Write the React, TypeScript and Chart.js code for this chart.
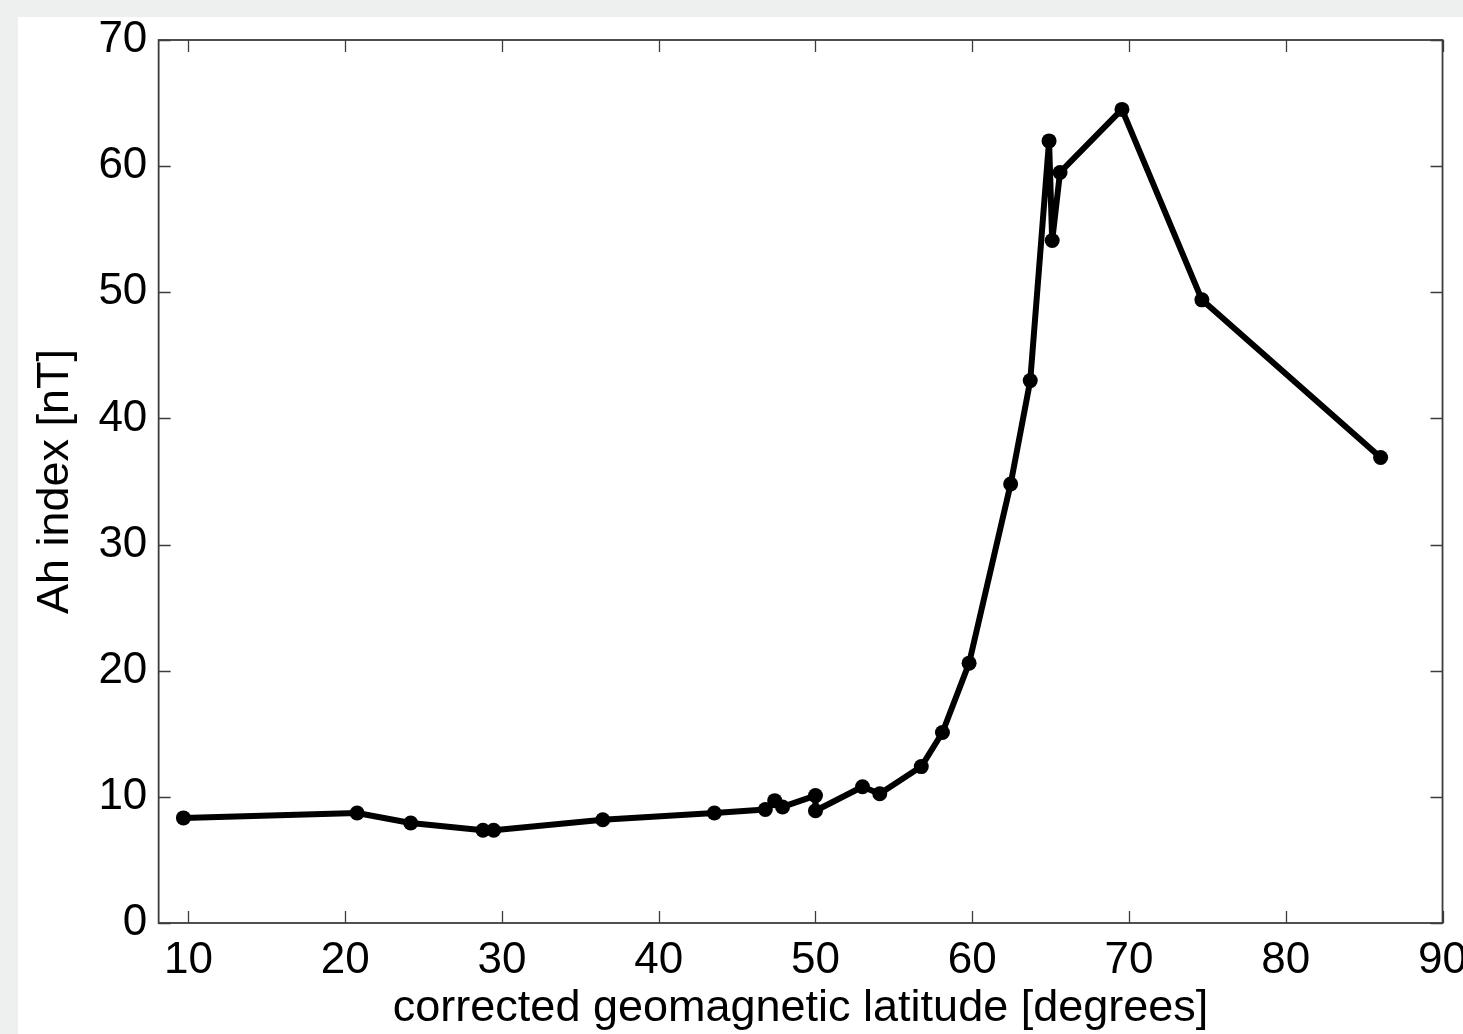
import React, { useEffect, useRef } from "react";
import { Chart, registerables } from "chart.js";

Chart.register(...registerables);

// Data
const latitudes = [
  9.68, 20.76, 24.18, 28.79, 29.47, 36.43, 43.55, 46.8, 47.4, 47.9, 50.0, 50.0,
  53.0, 54.1, 56.75, 58.1, 59.8, 62.45, 63.7, 64.9, 65.1, 65.6, 69.55, 74.65, 86.05,
];
const ahIndex = [
  8.33, 8.72, 7.93, 7.35, 7.35, 8.19, 8.72, 9.0, 9.7, 9.2, 10.1, 8.9,
  10.8, 10.25, 12.4, 15.1, 20.6, 34.8, 43.0, 62.0, 54.1, 59.5, 64.5, 49.4, 36.9,
];
const xTicks = [10, 20, 30, 40, 50, 60, 70, 80, 90];
const yTicks = [0, 10, 20, 30, 40, 50, 60, 70];
const xTitle = "corrected geomagnetic latitude [degrees]";
const yTitle = "Ah index [nT]";

const FONT = "'Liberation Sans', Arial, Helvetica, sans-serif";
const CANVAS_W = 1465;
const CANVAS_H = 1017;

const framePlugin = {
  id: "frameTicks",
  beforeDatasetsDraw(chart: any) {
    const { ctx, chartArea, scales } = chart;
    const { left, right, top, bottom } = chartArea;
    const xs = scales.x;
    const ys = scales.y;
    const len = 12;
    ctx.save();
    ctx.strokeStyle = "#3c3c3c";
    ctx.lineWidth = 1.3;
    ctx.beginPath();
    xTicks.forEach((v) => {
      const p = Math.round(xs.getPixelForValue(v)) + 0.5;
      ctx.moveTo(p, bottom);
      ctx.lineTo(p, bottom - len);
      ctx.moveTo(p, top);
      ctx.lineTo(p, top + len);
    });
    yTicks.forEach((v) => {
      const p = Math.round(ys.getPixelForValue(v)) + 0.5;
      ctx.moveTo(left, p);
      ctx.lineTo(left + len, p);
      ctx.moveTo(right, p);
      ctx.lineTo(right - len, p);
    });
    ctx.stroke();
    ctx.lineWidth = 1.8;
    ctx.strokeRect(left, top, right - left, bottom - top);
    ctx.restore();
  },
};

export default function App() {
  const canvasRef = useRef<HTMLCanvasElement | null>(null);

  useEffect(() => {
    document.body.style.margin = "0";
    document.body.style.overflow = "hidden";
    const canvas = canvasRef.current;
    if (!canvas) return;
    const points = latitudes.map((x, i) => ({ x, y: ahIndex[i] }));
    const chart = new Chart(canvas, {
      type: "scatter",
      data: {
        datasets: [
          {
            data: points,
            showLine: true,
            borderColor: "#000",
            backgroundColor: "#000",
            borderWidth: 6,
            borderJoinStyle: "round",
            borderCapStyle: "round",
            pointRadius: 7.5,
            pointBorderWidth: 0,
            pointBackgroundColor: "#000",
          },
        ],
      },
      options: {
        responsive: false,
        animation: false,
        devicePixelRatio: 1,
        layout: { padding: { top: 23, left: 0, right: 0, bottom: 0 } },
        plugins: {
          legend: { display: false },
          tooltip: { enabled: false },
        },
        scales: {
          x: {
            type: "linear",
            min: 8.1,
            max: 90,
            afterBuildTicks: (scale: any) => {
              scale.ticks = xTicks.map((v) => ({ value: v }));
            },
            grid: { display: false, drawTicks: false },
            border: { display: false },
            ticks: {
              color: "#000",
              padding: 16,
              font: { family: FONT, size: 44, lineHeight: 1.0 },
              maxRotation: 0,
              autoSkip: false,
            },
            title: {
              display: true,
              text: xTitle,
              color: "#000",
              font: { family: FONT, size: 45, lineHeight: 0.4 },
              padding: { top: 1, bottom: 16 },
            },
          },
          y: {
            type: "linear",
            min: 0,
            max: 70,
            afterBuildTicks: (scale: any) => {
              scale.ticks = yTicks.map((v) => ({ value: v }));
            },
            grid: { display: false, drawTicks: false },
            border: { display: false },
            ticks: {
              color: "#000",
              padding: 11.3,
              font: { family: FONT, size: 44, lineHeight: 0.5 },
              autoSkip: false,
            },
            title: {
              display: true,
              text: yTitle,
              color: "#000",
              font: { family: FONT, size: 45, lineHeight: 1.0 },
              padding: { top: 15.5, bottom: 8.6 },
            },
          },
        },
      },
      plugins: [framePlugin],
    });
    return () => chart.destroy();
  }, []);

  return (
    <div
      style={{
        position: "fixed",
        left: 0,
        top: 0,
        width: 1463,
        height: 1034,
        background: "#eeefef",
        overflow: "hidden",
      }}
    >
      <div
        style={{
          position: "absolute",
          left: 18,
          top: 17,
          right: 0,
          bottom: 0,
          background: "#ffffff",
          overflow: "hidden",
        }}
      >
        <canvas
          ref={canvasRef}
          width={CANVAS_W}
          height={CANVAS_H}
          style={{ display: "block", width: CANVAS_W, height: CANVAS_H }}
        />
      </div>
    </div>
  );
}
